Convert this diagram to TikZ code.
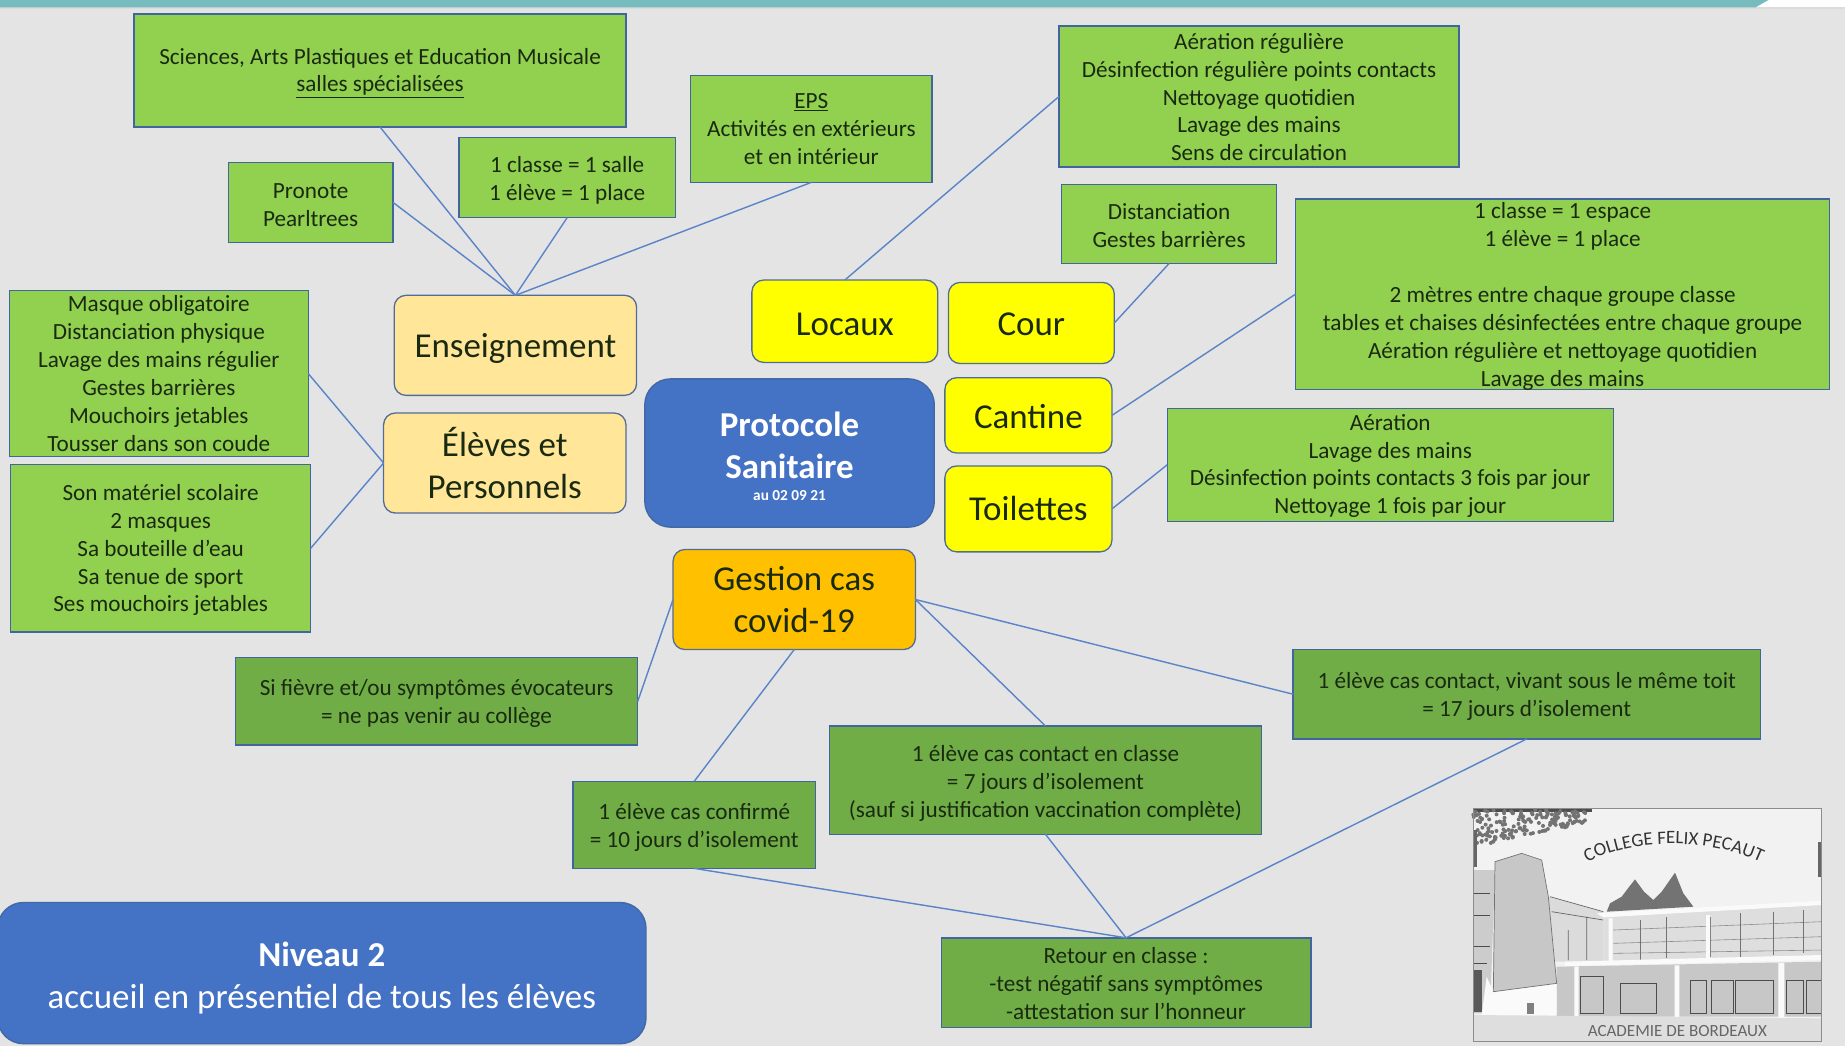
\documentclass[tikz,border=0pt]{standalone}
\usepackage{fontspec}
\setmainfont{Carlito}
\usetikzlibrary{decorations.text}
\definecolor{bgc}{HTML}{E4E4E4}
\definecolor{teal}{HTML}{76BBBD}
\definecolor{edgec}{HTML}{41669F}
\definecolor{linkc}{HTML}{5B84C8}
\definecolor{lime}{HTML}{92D050}
\definecolor{moss}{HTML}{70AD47}
\definecolor{blu}{HTML}{4472C4}
\definecolor{cream}{HTML}{FFE699}
\definecolor{orng}{HTML}{FFC000}
\definecolor{yelo}{HTML}{FFFF00}
\definecolor{txt}{HTML}{1A2A10}
\tikzset{
  x=1pt,y=-1pt,
  base/.style={inner sep=0pt,outer sep=0pt,align=center,line width=1.2pt,draw=edgec,text=txt},
  small/.style={font=\fontsize{19.7}{23.7}\selectfont},
  big/.style={font=\fontsize{29.7}{35.5}\selectfont},
  limebox/.style={base,small,fill=lime},
  mossbox/.style={base,small,fill=moss},
  pill/.style={base,big,rounded corners=10pt,line width=1.1pt,draw=edgec!75!gray},
  yel/.style={pill,fill=yelo},
  crm/.style={pill,fill=cream},
  org/.style={pill,fill=orng},
  blubox/.style={base,big,rounded corners=22pt,fill=blu,text=white,draw=edgec!80!blu},
  link/.style={draw=linkc,line width=1.2pt},
}
% \bx[text shift]{style}{name}{x1}{y1}{x2}{y2}{text}
\newcommand\bx[8][0]{%
  \pgfmathsetmacro\bxw{#6-#4}\pgfmathsetmacro\bxh{#7-#5}%
  \pgfmathsetmacro\bxcx{(#4+#6)/2}\pgfmathsetmacro\bxcy{(#5+#7)/2}%
  \pgfmathsetmacro\bxty{\bxcy+#1}%
  \node[#2,minimum width=\bxw pt,minimum height=\bxh pt] (#3) at (\bxcx,\bxcy) {};
  \node[#2,draw=none,fill=none] (#3t) at (\bxcx,\bxty) {#8};}
\begin{document}
\begin{tikzpicture}
\useasboundingbox (0,0) rectangle (1568,889);
\fill[bgc] (0,0) rectangle (1568,889);
\fill[black!14] (0,6) rectangle (1568,8);
\fill[white] (1480,0) rectangle (1568,6.2);
\fill[teal] (0,0) -- (1503,0) -- (1492,6.2) -- (0,6.2) -- cycle;

% top pills
\bx[3]{crm}{ens}{335}{251}{541}{336}{Enseignement}
\bx{crm}{elv}{326}{351}{532}{436}{Élèves et\\Personnels}
\bx[3]{yel}{loc}{639}{238}{797}{308}{Locaux}
\bx[1]{yel}{cou}{806}{240}{947}{309}{Cour}
\bx[1]{yel}{can}{803}{321}{945}{385}{Cantine}
\bx{yel}{toi}{803}{396}{945}{469}{Toilettes}
\bx{org}{ges}{572}{467}{778}{552}{Gestion cas\\covid-19}
\bx[3]{blubox,font=\fontsize{29.7}{35.5}\selectfont\bfseries}{pro}{548}{322}{794}{448}{Protocole\\Sanitaire\\[-17pt]\fontsize{13}{14}\selectfont\bfseries au 02 09 21}
\bx[4]{blubox}{niv}{-2}{767}{549}{887}{\textbf{Niveau 2}\\accueil en présentiel de tous les élèves}

% green boxes
\bx[2]{limebox}{sci}{114}{12}{532}{108}{Sciences, Arts Plastiques et Education Musicale\\\underline{salles spécialisées}}
\bx[2]{limebox}{prn}{194}{138}{334}{206}{Pronote\\Pearltrees}
\bx[2.5]{limebox}{cls}{390}{117}{574}{185}{1 classe = 1 salle\\1 élève = 1 place}
\bx{limebox}{eps}{587}{64}{792}{155}{\underline{EPS}\\Activités en extérieurs\\et en intérieur}
\bx[.5]{limebox}{aer}{900}{22}{1240}{142}{Aération régulière\\Désinfection régulière points contacts\\Nettoyage quotidien\\Lavage des mains\\Sens de circulation}
\bx[1]{limebox}{dis}{902}{157}{1085}{224}{Distanciation\\Gestes barrières}
\bx[2]{limebox}{esp}{1101}{169}{1555}{331}{1 classe = 1 espace\\1 élève = 1 place\\[23.7pt]2 mètres entre chaque groupe classe\\tables et chaises désinfectées entre chaque groupe\\Aération régulière et nettoyage quotidien\\Lavage des mains}
\bx[1]{limebox}{ae2}{992}{347}{1371}{443}{Aération\\Lavage des mains\\Désinfection points contacts 3 fois par jour\\Nettoyage 1 fois par jour}
\bx{limebox}{mas}{8}{247}{262}{388}{Masque obligatoire\\Distanciation physique\\Lavage des mains régulier\\Gestes barrières\\Mouchoirs jetables\\Tousser dans son coude}
\bx[1.5]{limebox}{mat}{9}{395}{264}{537}{Son matériel scolaire\\2 masques\\Sa bouteille d’eau\\Sa tenue de sport\\Ses mouchoirs jetables}
\bx[1.5]{mossbox}{fie}{200}{559}{542}{633}{Si fièvre et/ou symptômes évocateurs\\= ne pas venir au collège}
\bx[2]{mossbox}{cnf}{487}{664}{693}{738}{1 élève cas confirmé\\= 10 jours d’isolement}
\bx[2.5]{mossbox}{ccl}{705}{617}{1072}{709}{1 élève cas contact en classe\\= 7 jours d’isolement\\(sauf si justification vaccination complète)}
\bx[2]{mossbox}{ctt}{1099}{552}{1496}{628}{1 élève cas contact, vivant sous le même toit\\= 17 jours d’isolement}
\bx[1]{mossbox}{ret}{800}{797}{1114}{873}{Retour en classe :\\-test négatif sans symptômes\\-attestation sur l’honneur}

% connectors
\draw[link] (sci.south) -- (ens.north);
\draw[link] (prn.east) -- (ens.north);
\draw[link] (cls.south) -- (ens.north);
\draw[link] (eps.south) -- (ens.north);
\draw[link] (loc.north) -- (aer.west);
\draw[link] (cou.east) -- (dis.south);
\draw[link] (can.east) -- (esp.west);
\draw[link] (toi.east) -- (ae2.west);
\draw[link] (mas.east) -- (elv.west);
\draw[link] (mat.east) -- (elv.west);
\draw[link] (ges.west) -- (fie.east);
\draw[link] (ges.south) -- (cnf.north);
\draw[link] (ges.east) -- (ccl.north);
\draw[link] (ges.east) -- (ctt.west);
\draw[link] (ret.north) -- (cnf.south);
\draw[link] (ret.north) -- (ccl.south);
\draw[link] (ret.north) -- (ctt.south);

% logo (drawn directly)
\begin{scope}[shift={(1223.8,662.9)},x=0.2833pt,y=-0.2833pt]
  \fill[black!5] (100,85) rectangle (1145,785);
  % foliage, top left
  \fill[black!70] (100,85) rectangle (455,97);
  \pgfmathsetseed{7}
  \foreach \i in {1,...,170}{
    \pgfmathsetmacro\fx{100+rnd*340}
    \pgfmathsetmacro\fy{90+rnd*(1-(\fx-100)/520)*110}
    \fill[black!55] (\fx,\fy) circle (6);
  }
  \fill[black!60] (100,150) rectangle (112,260);
  \fill[black!60] (1135,185) rectangle (1145,290);
  % pines behind the building
  \fill[black!55] (500,395) -- (510,370) -- (545,350) -- (560,330) -- (585,298) -- (612,335) -- (640,360) -- (665,335) -- (705,278) -- (730,340) -- (760,380) -- cycle;
  % left wing and upper storeys
  \fill[black!20] (100,270) -- (165,270) -- (150,700) -- (100,700) -- cycle;
  \fill[black!14] (325,350) -- (490,395) -- (490,545) -- (345,545) -- cycle;
  \draw[black!60,line width=.6pt] (330,350) -- (490,395) (335,395) -- (490,420) (385,450) -- (385,540) (440,410) -- (440,540);
  \fill[black!13] (490,405) -- (1145,370) -- (1145,530) -- (490,545) -- cycle;
  \fill[black!22] (350,560) -- (1145,545) -- (1145,710) -- (350,710) -- cycle;
  \draw[black!45,line width=.5pt] (520,450) -- (1145,425) (520,490) -- (1145,470) (520,520) -- (1145,510);
  \draw[black!55,line width=.6pt] (600,420) -- (600,540) (680,410) -- (680,535) (810,410) -- (810,530) (900,400) -- (900,530) (1000,395) -- (1000,525) (1090,390) -- (1090,520);
  \draw[black!70,line width=.7pt] (420,590) rectangle (490,700) (540,610) rectangle (650,700) (750,600) rectangle (800,700) (815,600) rectangle (880,700) (885,600) rectangle (1000,700) (1040,600) rectangle (1090,700) (1100,600) rectangle (1145,700);
  \draw[black!70,line width=.7pt] (100,340) -- (150,340) (100,405) -- (150,405) (100,500) -- (150,500) (100,550) -- (140,550);
  \fill[black!65] (100,570) rectangle (125,695);
  % white base and slabs
  \fill[black!2] (160,635) -- (350,610) -- (350,705) -- (125,705) -- (140,590) -- cycle;
  \fill[black!50] (262,668) rectangle (282,703);
  \fill[black!2] (470,400) -- (1145,362) -- (1145,375) -- (490,412) -- cycle;
  \fill[black!2] (375,545) -- (1145,525) -- (1145,540) -- (375,558) -- cycle;
  \fill[black!2] (403,560) rectangle (416,710) (704,556) rectangle (718,715) (1015,548) rectangle (1033,730) (506,415) rectangle (518,545) (798,405) rectangle (810,535);
  % tower
  \filldraw[fill=black!22,draw=black!55,line width=.6pt] (165,245) -- (245,220) -- (305,240) -- (325,350) -- (350,610) -- (160,635) -- cycle;
  % ground
  \fill[black!13] (100,705) -- (1145,715) -- (1145,785) -- (100,785) -- cycle;
  \draw[black!45,line width=.6pt] (100,85) rectangle (1145,785);
  % texts
  \path[decorate,decoration={text along path,text align=center,
        text={|\fontsize{16}{18}\selectfont\color{black!80}|COLLEGE FELIX PECAUT}}]
        (425,258) .. controls (560,170) and (820,170) .. (980,255);
  \node[inner sep=0pt,text=black!60,font=\fontsize{14.5}{16}\selectfont] (aca) at (712,752) {ACADEMIE DE BORDEAUX};
\end{scope}
\end{tikzpicture}
\end{document}
